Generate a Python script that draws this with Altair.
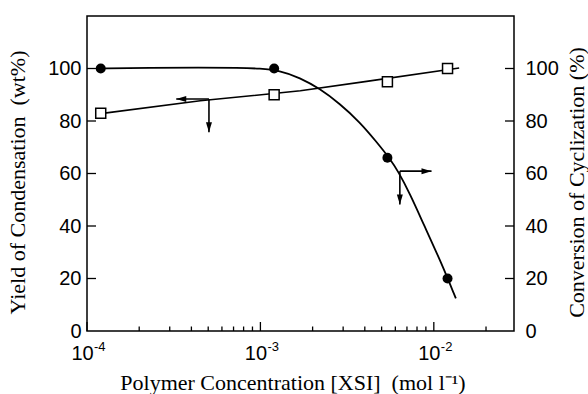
import altair as alt
import pandas as pd

# ---- data ----
conc_pts = [1.2e-4, 1.2e-3, 5.4e-3, 1.2e-2]
yield_pts = [83, 90, 95, 100]          # open squares (left axis)
cycl_pts = [100, 100, 66, 20]          # filled circles (right axis)

yield_fit_x = [1.2e-4, 4.5e-4, 1.7e-3, 4.1e-3, 1.4e-2]
yield_fit_y = [82.8, 87.7, 91.5, 95.1, 100.2]

cycl_fit_x = [1.18e-4, 2.3e-4, 4.47e-4, 7.59e-4, 9.91e-4, 1.29e-3, 1.69e-3, 2.2e-3,
              2.87e-3, 3.74e-3, 4.68e-3, 5.6e-3, 6.22e-3, 7.28e-3, 8.69e-3, 1.11e-2, 1.34e-2]
cycl_fit_y = [100, 100.3, 100.4, 100.3, 100, 99.2, 96.5, 92.3,
              86.6, 79.6, 72.0, 65.5, 60.9, 52.3, 41, 25.7, 12.4]

# arrows: corner, horizontal tip, vertical tip
arrow_left = {"cx": 5.05e-4, "cy": 88.4, "hx": 3.27e-4, "vy": 75.7}
arrow_right = {"cx": 6.37e-3, "cy": 60.9, "hx": 9.7e-3, "vy": 48.2}

x_major = [1e-4, 1e-3, 1e-2]
x_exp = ["-4", "-3", "-2"]
x_minor = [k * 1e-4 for k in range(2, 10)] + [k * 1e-3 for k in range(2, 10)] + [2e-2]
y_ticks = [20, 40, 60, 80, 100]
y_labels = [0, 20, 40, 60, 80, 100]

W, H = 427, 315
LBL = "Liberation Sans"
TTL = "Liberation Serif"

pts = pd.DataFrame({"x": conc_pts, "yield": yield_pts, "cycl": cycl_pts})
yfit = pd.DataFrame({"x": yield_fit_x, "y": yield_fit_y})
cfit = pd.DataFrame({"x": cycl_fit_x, "y": cycl_fit_y})

segs = pd.DataFrame({
    "x": [arrow_left["cx"], arrow_left["cx"], arrow_right["cx"], arrow_right["cx"]],
    "x2": [arrow_left["hx"], arrow_left["cx"], arrow_right["hx"], arrow_right["cx"]],
    "y": [arrow_left["cy"], arrow_left["cy"], arrow_right["cy"], arrow_right["cy"]],
    "y2": [arrow_left["cy"], arrow_left["vy"], arrow_right["cy"], arrow_right["vy"]],
})
head_left = pd.DataFrame({"x": [arrow_left["hx"]], "y": [arrow_left["cy"]]})
head_right = pd.DataFrame({"x": [arrow_right["hx"]], "y": [arrow_right["cy"]]})
head_down = pd.DataFrame({"x": [arrow_left["cx"], arrow_right["cx"]],
                          "y": [arrow_left["vy"], arrow_right["vy"]]})

xmaj = pd.DataFrame({"x": x_major, "e": x_exp})
xmin = pd.DataFrame({"x": x_minor})
yt = pd.DataFrame({"y": y_ticks})

xscale = alt.Scale(type="log", domain=[1e-4, 0.029], nice=False)
yscale = alt.Scale(domain=[0, 120], nice=False, zero=False)

xaxis = alt.Axis(values=x_major, labelExpr="'10'", tickSize=0, domain=False, grid=False,
                 labelFont=LBL, labelFontSize=20, labelColor="black", labelFlush=False,
                 labelOverlap=False, labelBaseline="alphabetic", labelPadding=28, labelOffset=-5,
                 title="Polymer Concentration [XSI]\u00a0\u00a0(mol l\u207b\u00b9)",
                 titleFont=TTL, titleFontSize=22, titleFontWeight="normal", titleColor="black",
                 titleX=205.5, titleY=58, titleAlign="center", titleBaseline="alphabetic")
yaxis_left = alt.Axis(values=y_labels, tickSize=0, domain=False, grid=False,
                      labelFont=LBL, labelFontSize=20, labelColor="black", labelPadding=6,
                      labelFlush=False,
                      title="Yield of Condensation\u00a0\u00a0(wt%)",
                      titleFont=TTL, titleFontSize=22, titleFontWeight="normal", titleColor="black",
                      titleAngle=270, titleX=-62.5, titleY=166, titleAlign="center",
                      titleBaseline="alphabetic")
yaxis_right = alt.Axis(orient="right", values=y_labels, tickSize=0, domain=False, grid=False,
                       labelFont=LBL, labelFontSize=20, labelColor="black", labelPadding=11,
                       labelFlush=False,
                       title="Conversion of Cyclization (%)",
                       titleFont=TTL, titleFontSize=22, titleFontWeight="normal", titleColor="black",
                       titleAngle=270, titleX=69, titleY=166, titleAlign="center",
                       titleBaseline="alphabetic")


def X(field="x"):
    return alt.X(f"{field}:Q", scale=xscale, axis=xaxis)


def YL(field="y"):
    return alt.Y(f"{field}:Q", scale=yscale, axis=yaxis_left)


yline = alt.Chart(yfit).mark_line(color="black", strokeWidth=1.6).encode(x=X(), y=YL())
cline = alt.Chart(cfit).mark_line(color="black", strokeWidth=1.8, interpolate="basis").encode(
    x=X(), y=YL())
squares = alt.Chart(pts).mark_point(shape="square", size=100, filled=True, fill="white",
                                    stroke="black", strokeWidth=1.5, opacity=1).encode(
    x=X(), y=YL("yield"))
circles = alt.Chart(pts).mark_point(shape="circle", size=100, filled=True, color="black",
                                    opacity=1).encode(x=X(), y=YL("cycl"))

arrows = alt.Chart(segs).mark_rule(color="black", strokeWidth=1.6).encode(
    x=X(), x2="x2:Q", y=YL(), y2="y2:Q")
hl = alt.Chart(head_left).mark_point(shape="M0,0L2,-0.6L2,0.6Z", size=100, filled=True,
                                     color="black", opacity=1).encode(x=X(), y=YL())
hr = alt.Chart(head_right).mark_point(shape="M0,0L-2,-0.6L-2,0.6Z", size=100, filled=True,
                                      color="black", opacity=1).encode(x=X(), y=YL())
hd = alt.Chart(head_down).mark_point(shape="M0,0L-0.6,-2L0.6,-2Z", size=100, filled=True,
                                     color="black", opacity=1).encode(x=X(), y=YL())

xt_major = alt.Chart(xmaj).mark_rule(color="black", strokeWidth=1.3).encode(
    x=X(), y=alt.value(H), y2=alt.value(H - 9))
xt_minor = alt.Chart(xmin).mark_rule(color="black", strokeWidth=1.3).encode(
    x=X(), y=alt.value(H), y2=alt.value(H - 4.5))
xt_exp = alt.Chart(xmaj).mark_text(font=LBL, fontSize=13, align="left", baseline="alphabetic",
                                   dx=7, color="black").encode(
    x=X(), y=alt.value(H + 20), text="e:N")
yt_left = alt.Chart(yt).mark_rule(color="black", strokeWidth=1.3).encode(
    y=YL(), x=alt.value(0), x2=alt.value(9))

left = alt.layer(yline, cline, arrows, hl, hr, hd, xt_major, xt_minor, xt_exp, yt_left,
                 squares, circles)

right = alt.Chart(yt).mark_rule(color="black", strokeWidth=1.3).encode(
    y=alt.Y("y:Q", scale=yscale, axis=yaxis_right), x=alt.value(W - 9), x2=alt.value(W))

chart = alt.layer(left, right).resolve_scale(y="independent").properties(
    width=W, height=H,
    padding={"left": 87, "top": 16, "right": 588 - 87 - W, "bottom": 394 - 16 - H},
    autosize=alt.AutoSizeParams(type="none"),
    background="white",
).configure_view(stroke="black", strokeWidth=1.5)

chart.save("out.html", embed_options={"renderer": "svg", "actions": False})
